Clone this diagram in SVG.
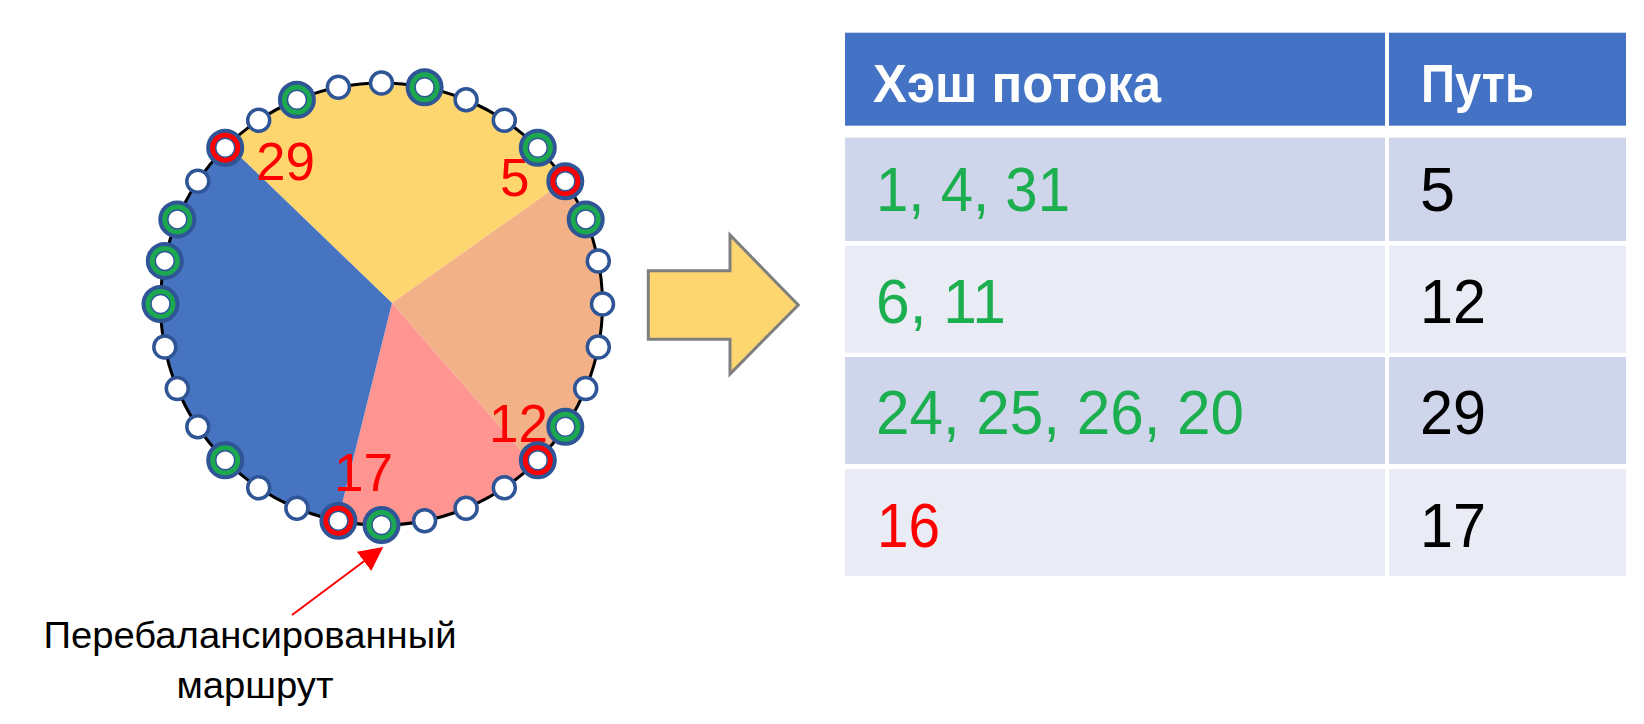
<svg xmlns="http://www.w3.org/2000/svg" width="1644" height="724" viewBox="0 0 1644 724">
<defs>
<style>
.sm{fill:#ffffff;stroke:#2F5597;stroke-width:3.5}
.bg{fill:#1CA84F;stroke:#2F5597;stroke-width:4}
.br{fill:#FF0000;stroke:#2F5597;stroke-width:4}
.in{fill:#ffffff;stroke:#2F5597;stroke-width:1.5}
.lbl{font-family:"Liberation Sans",Arial,sans-serif;font-size:53px;fill:#FF0000}
.cell{font-family:"Liberation Sans",Arial,sans-serif;font-size:63px}
.hdr{font-family:"Liberation Sans",Arial,sans-serif;font-size:54px;font-weight:bold;fill:#ffffff}
.g{fill:#1CAF50}
.k{fill:#000000}
.r{fill:#FF0000}
.note{font-family:"Liberation Sans",Arial,sans-serif;font-size:36px;fill:#000000}
</style>
<clipPath id="ringclip"><circle cx="381.5" cy="304" r="221"/></clipPath>
<marker id="redhead" markerUnits="userSpaceOnUse" markerWidth="24" markerHeight="24" viewBox="0 0 24 24" refX="0" refY="12" orient="auto">
<path d="M0,0 L24,12 L0,24 z" fill="#FF0000"/>
</marker>
</defs>
<rect width="1644" height="724" fill="#ffffff"/>

<g id="pie">
<g clip-path="url(#ringclip)">
<polygon points="392,303 -13,-87 802,13" fill="#FED66F"/>
<polygon points="392,303 802,13 737,698" fill="#F2B187"/>
<polygon points="392,303 737,698 257,846" fill="#FE9591"/>
<polygon points="392,303 257,846 -100,846 -100,-87 -13,-87" fill="#4674C1"/>
</g>
<circle cx="381.5" cy="304" r="221" fill="none" stroke="#000000" stroke-width="3"/>
</g>

<g id="path-labels">
<text class="lbl" x="256" y="180">29</text>
<text class="lbl" x="500" y="196">5</text>
<text class="lbl" x="489" y="442">12</text>
<text class="lbl" x="334" y="491">17</text>
</g>

<g id="ring-markers">
<circle class="sm" cx="381.5" cy="83" r="11"/>
<g><circle class="bg" cx="424.6" cy="87.3" r="17"/><circle class="in" cx="424.6" cy="87.3" r="9.5"/></g>
<circle class="sm" cx="466.1" cy="99.8" r="11"/>
<circle class="sm" cx="504.3" cy="120.3" r="11"/>
<g><circle class="bg" cx="537.8" cy="147.7" r="17"/><circle class="in" cx="537.8" cy="147.7" r="9.5"/></g>
<g><circle class="br" cx="565.3" cy="181.2" r="17"/><circle class="in" cx="565.3" cy="181.2" r="9.5"/></g>
<g><circle class="bg" cx="585.7" cy="219.4" r="17"/><circle class="in" cx="585.7" cy="219.4" r="9.5"/></g>
<circle class="sm" cx="598.3" cy="260.9" r="11"/>
<circle class="sm" cx="602.5" cy="304" r="11"/>
<circle class="sm" cx="598.3" cy="347.1" r="11"/>
<circle class="sm" cx="585.7" cy="388.6" r="11"/>
<g><circle class="bg" cx="565.3" cy="426.8" r="17"/><circle class="in" cx="565.3" cy="426.8" r="9.5"/></g>
<g><circle class="br" cx="537.8" cy="460.3" r="17"/><circle class="in" cx="537.8" cy="460.3" r="9.5"/></g>
<circle class="sm" cx="504.3" cy="487.8" r="11"/>
<circle class="sm" cx="466.1" cy="508.2" r="11"/>
<circle class="sm" cx="424.6" cy="520.8" r="11"/>
<g id="rebalanced-marker"><circle class="bg" cx="381.5" cy="525" r="17"/><circle class="in" cx="381.5" cy="525" r="9.5"/></g>
<g><circle class="br" cx="338.4" cy="520.8" r="17"/><circle class="in" cx="338.4" cy="520.8" r="9.5"/></g>
<circle class="sm" cx="296.9" cy="508.2" r="11"/>
<circle class="sm" cx="258.7" cy="487.8" r="11"/>
<g><circle class="bg" cx="225.2" cy="460.3" r="17"/><circle class="in" cx="225.2" cy="460.3" r="9.5"/></g>
<circle class="sm" cx="197.8" cy="426.8" r="11"/>
<circle class="sm" cx="177.3" cy="388.6" r="11"/>
<circle class="sm" cx="164.8" cy="347.1" r="11"/>
<g><circle class="bg" cx="160.5" cy="304" r="17"/><circle class="in" cx="160.5" cy="304" r="9.5"/></g>
<g><circle class="bg" cx="164.8" cy="260.9" r="17"/><circle class="in" cx="164.8" cy="260.9" r="9.5"/></g>
<g><circle class="bg" cx="177.3" cy="219.4" r="17"/><circle class="in" cx="177.3" cy="219.4" r="9.5"/></g>
<circle class="sm" cx="197.8" cy="181.2" r="11"/>
<g><circle class="br" cx="225.2" cy="147.7" r="17"/><circle class="in" cx="225.2" cy="147.7" r="9.5"/></g>
<circle class="sm" cx="258.7" cy="120.3" r="11"/>
<g><circle class="bg" cx="296.9" cy="99.8" r="17"/><circle class="in" cx="296.9" cy="99.8" r="9.5"/></g>
<circle class="sm" cx="338.4" cy="87.3" r="11"/>
</g>

<g id="block-arrow">
<polygon points="648.3,270.7 730,270.7 730,235 798.3,305 730,374 730,339.3 648.3,339.3" fill="#FED66F" stroke="#7F7F7F" stroke-width="3" stroke-linejoin="miter"/>
</g>

<g id="table">
<rect x="845" y="32.7" width="540" height="93" fill="#4472C4"/>
<rect x="1389" y="32.7" width="237" height="93" fill="#4472C4"/>
<rect x="845" y="137.7" width="540" height="103.3" fill="#CFD5EA"/>
<rect x="1389" y="137.7" width="237" height="103.3" fill="#CFD5EA"/>
<rect x="845" y="245.7" width="540" height="107" fill="#E9EBF5"/>
<rect x="1389" y="245.7" width="237" height="107" fill="#E9EBF5"/>
<rect x="845" y="357" width="540" height="107" fill="#CFD5EA"/>
<rect x="1389" y="357" width="237" height="107" fill="#CFD5EA"/>
<rect x="845" y="469" width="540" height="107" fill="#E9EBF5"/>
<rect x="1389" y="469" width="237" height="107" fill="#E9EBF5"/>
<text class="hdr" x="873" y="101.7" textLength="288" lengthAdjust="spacingAndGlyphs">Хэш потока</text>
<text class="hdr" x="1421" y="101.7" textLength="113" lengthAdjust="spacingAndGlyphs">Путь</text>
<text class="cell g" x="876" y="211" textLength="194" lengthAdjust="spacingAndGlyphs">1, 4, 31</text>
<text class="cell k" x="1420" y="211">5</text>
<text class="cell g" x="876" y="323.3" textLength="130" lengthAdjust="spacingAndGlyphs">6, 11</text>
<text class="cell k" x="1420" y="323.3" textLength="66" lengthAdjust="spacingAndGlyphs">12</text>
<text class="cell g" x="876" y="434" textLength="368" lengthAdjust="spacingAndGlyphs">24, 25, 26, 20</text>
<text class="cell k" x="1420" y="434" textLength="66" lengthAdjust="spacingAndGlyphs">29</text>
<text class="cell r" x="877" y="546.7" textLength="63" lengthAdjust="spacingAndGlyphs">16</text>
<text class="cell k" x="1420" y="546.7" textLength="66" lengthAdjust="spacingAndGlyphs">17</text>
</g>

<g id="rebalanced-label">
<text class="note" x="250" y="647.7" text-anchor="middle" textLength="413" lengthAdjust="spacingAndGlyphs">Перебалансированный</text>
<text class="note" x="255" y="698.3" text-anchor="middle" textLength="157" lengthAdjust="spacingAndGlyphs">маршрут</text>
</g>

<g id="connectors">
<line x1="292" y1="615" x2="364" y2="561.3" stroke="#FF0000" stroke-width="2" marker-end="url(#redhead)"/>
</g>
</svg>
